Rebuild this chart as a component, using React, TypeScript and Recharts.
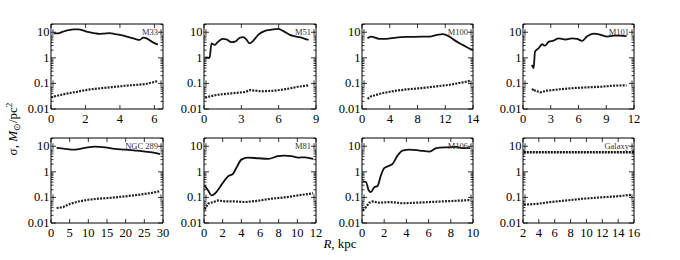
import { LineChart, Line, XAxis, YAxis, ReferenceArea } from 'recharts';

type Pt = { r: number; s: number };

// r in kpc, s in Msun/pc^2
const m33Upper: Pt[] = [
  { r: 0, s: 9.2 }, { r: 0.4, s: 9.0 }, { r: 0.7, s: 10.5 }, { r: 1.0, s: 12 }, { r: 1.3, s: 13 },
  { r: 1.6, s: 13 }, { r: 1.9, s: 11.5 }, { r: 2.2, s: 10 }, { r: 2.5, s: 9.3 }, { r: 2.8, s: 8.6 },
  { r: 3.1, s: 8.9 }, { r: 3.4, s: 9.2 }, { r: 3.7, s: 8.5 }, { r: 4.0, s: 7.9 }, { r: 4.3, s: 7.0 },
  { r: 4.6, s: 6.2 }, { r: 4.9, s: 5.4 }, { r: 5.15, s: 5.0 }, { r: 5.35, s: 6.2 }, { r: 5.55, s: 5.8 },
  { r: 5.85, s: 4.3 }, { r: 6.1, s: 3.5 }, { r: 6.2, s: 3.3 },
];
const m33Lower: Pt[] = [
  { r: 0, s: 0.028 }, { r: 0.2, s: 0.031 }, { r: 0.5, s: 0.035 }, { r: 1.0, s: 0.041 }, { r: 1.5, s: 0.047 },
  { r: 2.0, s: 0.055 }, { r: 2.5, s: 0.061 }, { r: 3.0, s: 0.066 }, { r: 3.5, s: 0.071 }, { r: 4.0, s: 0.077 },
  { r: 4.5, s: 0.083 }, { r: 5.0, s: 0.088 }, { r: 5.5, s: 0.095 }, { r: 5.9, s: 0.11 }, { r: 6.1, s: 0.12 },
  { r: 6.2, s: 0.11 },
];

const m51Upper: Pt[] = [
  { r: 0.1, s: 1.03 }, { r: 0.45, s: 1.0 }, { r: 0.6, s: 3.7 }, { r: 0.85, s: 3.2 }, { r: 1.1, s: 4.1 },
  { r: 1.5, s: 5.5 }, { r: 1.8, s: 5.3 }, { r: 2.2, s: 4.1 }, { r: 2.5, s: 4.3 }, { r: 2.9, s: 6.2 },
  { r: 3.15, s: 6.4 }, { r: 3.4, s: 5.3 }, { r: 3.65, s: 3.7 }, { r: 3.95, s: 4.6 }, { r: 4.35, s: 7.9 },
  { r: 4.9, s: 11.3 }, { r: 5.3, s: 12.3 }, { r: 5.95, s: 13.5 }, { r: 6.35, s: 11.3 }, { r: 6.9, s: 7.9 },
  { r: 7.4, s: 6.8 }, { r: 8.0, s: 5.8 }, { r: 8.4, s: 5.0 },
];
const m51Lower: Pt[] = [
  { r: 0.1, s: 0.027 }, { r: 0.3, s: 0.03 }, { r: 1.1, s: 0.036 }, { r: 2.2, s: 0.041 }, { r: 3.3, s: 0.046 },
  { r: 3.7, s: 0.055 }, { r: 4.6, s: 0.049 }, { r: 5.7, s: 0.052 }, { r: 6.75, s: 0.062 }, { r: 7.55, s: 0.074 },
  { r: 8.4, s: 0.084 },
];

const m100Upper: Pt[] = [
  { r: 0.7, s: 5.8 }, { r: 1.1, s: 6.8 }, { r: 2.2, s: 5.5 }, { r: 3.0, s: 5.5 }, { r: 4.3, s: 6.2 },
  { r: 6, s: 6.6 }, { r: 7.6, s: 6.8 }, { r: 8.5, s: 6.8 }, { r: 9.5, s: 7.9 }, { r: 10.2, s: 8.4 },
  { r: 11, s: 6.8 }, { r: 11.8, s: 4.6 }, { r: 12.7, s: 3.2 }, { r: 13.7, s: 2.2 }, { r: 14, s: 2.1 },
];
const m100Lower: Pt[] = [
  { r: 0.7, s: 0.025 }, { r: 1.1, s: 0.031 }, { r: 2.6, s: 0.042 }, { r: 4.3, s: 0.052 }, { r: 6, s: 0.06 },
  { r: 7.6, s: 0.066 }, { r: 9.3, s: 0.076 }, { r: 11, s: 0.088 }, { r: 12.7, s: 0.11 }, { r: 13.7, s: 0.127 },
];

const m101Upper: Pt[] = [
  { r: 0.97, s: 0.53 }, { r: 1.15, s: 0.4 }, { r: 1.3, s: 1.77 }, { r: 1.7, s: 2.4 }, { r: 2.05, s: 3.4 },
  { r: 2.4, s: 3.0 }, { r: 2.8, s: 4.3 }, { r: 3.3, s: 4.7 }, { r: 3.85, s: 5.8 }, { r: 4.6, s: 5.2 },
  { r: 5.3, s: 5.8 }, { r: 5.85, s: 5.5 }, { r: 6.4, s: 4.6 }, { r: 6.9, s: 6.8 }, { r: 7.65, s: 8.9 },
  { r: 8.4, s: 7.9 }, { r: 9.1, s: 6.8 }, { r: 9.8, s: 7.4 }, { r: 10.5, s: 7.4 }, { r: 11.2, s: 7.0 },
];
const m101Lower: Pt[] = [
  { r: 0.97, s: 0.055 }, { r: 1.15, s: 0.062 }, { r: 1.3, s: 0.052 }, { r: 1.9, s: 0.045 }, { r: 2.6, s: 0.052 },
  { r: 4, s: 0.059 }, { r: 5.5, s: 0.066 }, { r: 6.9, s: 0.07 }, { r: 8.4, s: 0.074 }, { r: 9.8, s: 0.082 },
  { r: 11.2, s: 0.084 },
];

const ngc289Upper: Pt[] = [
  { r: 1.5, s: 8.6 }, { r: 3.75, s: 7.9 }, { r: 6.4, s: 7.4 }, { r: 9.1, s: 8.6 }, { r: 11.8, s: 9.7 },
  { r: 14.5, s: 9.1 }, { r: 17.1, s: 7.9 }, { r: 19.8, s: 7.4 }, { r: 22.5, s: 6.8 }, { r: 25.2, s: 6.2 },
  { r: 27.9, s: 5.5 }, { r: 29.2, s: 4.9 },
];
const ngc289Lower: Pt[] = [
  { r: 1.5, s: 0.0385 }, { r: 3.3, s: 0.042 }, { r: 5.1, s: 0.056 }, { r: 7.3, s: 0.069 }, { r: 10, s: 0.081 },
  { r: 12.7, s: 0.089 }, { r: 16.3, s: 0.097 }, { r: 19.8, s: 0.11 }, { r: 23.4, s: 0.126 }, { r: 27, s: 0.15 },
  { r: 29.2, s: 0.176 },
];

const m81Upper: Pt[] = [
  { r: 0.07, s: 0.29 }, { r: 0.43, s: 0.19 }, { r: 0.8, s: 0.12 }, { r: 1.15, s: 0.14 }, { r: 1.7, s: 0.25 },
  { r: 2.2, s: 0.46 }, { r: 2.6, s: 0.68 }, { r: 3.1, s: 0.84 }, { r: 3.5, s: 1.5 }, { r: 4.0, s: 3.0 },
  { r: 4.7, s: 3.6 }, { r: 5.8, s: 3.4 }, { r: 6.9, s: 3.2 }, { r: 7.9, s: 4.1 }, { r: 8.6, s: 4.3 },
  { r: 9.4, s: 4.1 }, { r: 10.1, s: 3.6 }, { r: 10.8, s: 3.7 }, { r: 11.7, s: 3.2 },
];
const m81Lower: Pt[] = [
  { r: 0.07, s: 0.034 }, { r: 0.43, s: 0.057 }, { r: 1.0, s: 0.066 }, { r: 1.5, s: 0.076 }, { r: 2.2, s: 0.07 },
  { r: 3.2, s: 0.07 }, { r: 4.4, s: 0.066 }, { r: 5.8, s: 0.074 }, { r: 7.2, s: 0.089 }, { r: 8.6, s: 0.1 },
  { r: 10.1, s: 0.12 }, { r: 11.7, s: 0.145 },
];

const m106Upper: Pt[] = [
  { r: 0.06, s: 0.42 }, { r: 0.36, s: 0.4 }, { r: 0.6, s: 0.19 }, { r: 0.8, s: 0.16 }, { r: 1.1, s: 0.25 },
  { r: 1.4, s: 0.28 }, { r: 1.7, s: 0.72 }, { r: 2.0, s: 1.4 }, { r: 2.5, s: 1.77 }, { r: 2.75, s: 2.05 },
  { r: 3.2, s: 4.3 }, { r: 3.65, s: 6.8 }, { r: 4.3, s: 7.4 }, { r: 5.2, s: 6.8 }, { r: 6.1, s: 6.2 },
  { r: 6.7, s: 8.4 }, { r: 7.6, s: 9.1 }, { r: 8.5, s: 9.4 }, { r: 9.1, s: 8.4 }, { r: 9.8, s: 8.4 },
];
const m106Lower: Pt[] = [
  { r: 0.06, s: 0.031 }, { r: 0.36, s: 0.042 }, { r: 0.66, s: 0.062 }, { r: 0.95, s: 0.07 }, { r: 1.56, s: 0.062 },
  { r: 2.5, s: 0.066 }, { r: 3.65, s: 0.059 }, { r: 4.85, s: 0.062 }, { r: 6.1, s: 0.066 }, { r: 7.3, s: 0.07 },
  { r: 8.5, s: 0.074 }, { r: 9.8, s: 0.079 },
];

const galaxyUpper: Pt[] = [
  { r: 2.1, s: 5.8 }, { r: 4, s: 5.8 }, { r: 6, s: 5.8 }, { r: 8, s: 5.8 }, { r: 10, s: 5.8 },
  { r: 12, s: 5.8 }, { r: 14, s: 5.8 }, { r: 16, s: 5.8 },
];
const galaxyLower: Pt[] = [
  { r: 2.1, s: 0.052 }, { r: 3.8, s: 0.056 }, { r: 5.4, s: 0.066 }, { r: 7.5, s: 0.076 }, { r: 9.6, s: 0.089 },
  { r: 11.7, s: 0.1 }, { r: 13.8, s: 0.11 }, { r: 15.7, s: 0.127 },
];

const yMajor = [0.01, 0.1, 1, 10];
const yMajorLabels = ['0.01', '0.1', '1', '10'];
const yMinor = [
  0.02, 0.03, 0.04, 0.05, 0.06, 0.07, 0.08, 0.09,
  0.2, 0.3, 0.4, 0.5, 0.6, 0.7, 0.8, 0.9,
  2, 3, 4, 5, 6, 7, 8, 9, 20,
];
const yTicks = [...yMajor, ...yMinor].sort((a, b) => a - b);
const yMax = 21;

const panels = [
  { name: 'M33', upper: m33Upper, lower: m33Lower, dom: [0, 6.5], ticks: [0, 2, 4, 6], labels: ['0', '2', '4', '6'] },
  { name: 'M51', upper: m51Upper, lower: m51Lower, dom: [0, 9], ticks: [0, 3, 6, 9], labels: ['0', '3', '6', '9'] },
  { name: 'M100', upper: m100Upper, lower: m100Lower, dom: [0, 14], ticks: [0, 3.5, 7, 10.5, 14], labels: ['0', '4', '8', '12', '14'] },
  { name: 'M101', upper: m101Upper, lower: m101Lower, dom: [0, 12], ticks: [0, 3, 6, 9, 12], labels: ['0', '3', '6', '9', '12'] },
  { name: 'NGC 289', upper: ngc289Upper, lower: ngc289Lower, dom: [0, 30], ticks: [0, 5, 10, 15, 20, 25, 30], labels: ['0', '5', '10', '15', '20', '25', '30'] },
  { name: 'M81', upper: m81Upper, lower: m81Lower, dom: [0, 12], ticks: [0, 2, 4, 6, 8, 10, 12], labels: ['0', '2', '4', '6', '8', '10', '12'] },
  { name: 'M106', upper: m106Upper, lower: m106Lower, dom: [0, 10], ticks: [0, 2, 4, 6, 8, 10], labels: ['0', '2', '4', '6', '8', '10'] },
  { name: 'Galaxy', upper: galaxyUpper, lower: galaxyLower, dom: [2, 16], ticks: [2, 4, 6, 8, 10, 12, 14, 16], labels: ['2', '4', '6', '8', '10', '12', '14', '16'], dottedTop: true },
];

const FONT = 'Liberation Serif, Times New Roman, serif';
const lefts = [51, 204, 362, 523];
const widths = [112, 112, 111, 111];
const tops = [24, 138];
const PH = 85;
const ML = 40; // room for y labels
const MR = 10;
const MT = 5;
const XH = 20;

function YTick(props: any) {
  const { x, y, payload, plotW } = props;
  const v = payload.value;
  const mi = yMajor.indexOf(v);
  const major = mi >= 0;
  const len = major ? 5 : 2.5;
  const block = v === 10 || v === 0.1;
  return (
    <g>
      {block && <rect x={x} y={y - 3} width={3} height={6} fill="#9a9a9a" />}
      {block && <rect x={x + plotW - 3} y={y - 3} width={3} height={6} fill="#9a9a9a" />}
      <line x1={x} x2={x + len} y1={y} y2={y} stroke="#000" strokeWidth={0.8} />
      <line x1={x + plotW} x2={x + plotW - len} y1={y} y2={y} stroke="#000" strokeWidth={0.8} />
      {major && (
        <text x={x - 1.5} y={y + 4} textAnchor="end" fontFamily={FONT} fontSize={12.5} fill="#000">
          {yMajorLabels[mi]}
        </text>
      )}
    </g>
  );
}

function XTick(props: any) {
  const { x, y, payload, ticks, labels } = props;
  const i = ticks.indexOf(payload.value);
  return (
    <g>
      <line x1={x} x2={x} y1={y} y2={y - 4} stroke="#000" strokeWidth={0.8} />
      <line x1={x} x2={x} y1={y - PH} y2={y - PH + 4} stroke="#000" strokeWidth={0.8} />
      <text x={x} y={y + 14} textAnchor="middle" fontFamily={FONT} fontSize={12.5} fill="#000">
        {labels[i]}
      </text>
    </g>
  );
}

function Panel({ p, idx }: { p: any; idx: number }) {
  const col = idx % 4;
  const row = Math.floor(idx / 4);
  const pw = widths[col];
  const w = ML + pw + MR;
  const h = MT + PH + XH;
  return (
    <div style={{ position: 'absolute', left: lefts[col] - ML, top: tops[row] - MT }}>
      <LineChart width={w} height={h} margin={{ top: MT, right: MR, bottom: 0, left: 0 }}>
        <XAxis
          dataKey="r"
          type="number"
          domain={p.dom}
          ticks={p.ticks}
          interval={0}
          height={XH}
          tickSize={0}
          tickMargin={0}
          axisLine={false}
          tickLine={false}
          allowDataOverflow
          tick={(tp: any) => <XTick {...tp} ticks={p.ticks} labels={p.labels} />}
        />
        <YAxis
          dataKey="s"
          type="number"
          scale="log"
          domain={[0.01, yMax]}
          ticks={yTicks}
          interval={0}
          width={ML}
          tickSize={0}
          tickMargin={0}
          axisLine={false}
          tickLine={false}
          allowDataOverflow
          tick={(tp: any) => <YTick {...tp} plotW={pw} />}
        />
        <ReferenceArea
          x1={p.dom[0]}
          x2={p.dom[1]}
          y1={0.01}
          y2={yMax}
          fill="none"
          fillOpacity={0}
          stroke="#000"
          strokeWidth={1}
          label={{ value: p.name, position: 'insideTopRight', offset: 5, fontSize: 8.5, fontFamily: FONT, fill: '#333' }}
        />
        <Line
          data={p.upper}
          dataKey="s"
          type={p.dottedTop ? 'linear' : 'monotone'}
          stroke="#111"
          strokeWidth={p.dottedTop ? 2.4 : 1.8}
          strokeDasharray={p.dottedTop ? '2 1' : undefined}
          dot={false}
          isAnimationActive={false}
        />
        <Line
          data={p.lower}
          dataKey="s"
          type="linear"
          stroke="#222"
          strokeWidth={2.2}
          strokeDasharray="2 1.2"
          dot={false}
          isAnimationActive={false}
        />
      </LineChart>
    </div>
  );
}

export default function App() {
  return (
    <div style={{ position: 'absolute', left: 0, top: 0, width: 680, height: 260, background: '#fff' }}>
      <svg width={680} height={260} style={{ position: 'absolute', left: 0, top: 0 }}>
        <text transform="translate(17,129) rotate(-90)" textAnchor="middle" fontFamily={FONT} fontSize={13} fill="#000">
          σ, <tspan fontStyle="italic">M</tspan>
          <tspan fontSize={9} dy={3}>⊙</tspan>
          <tspan dy={-3}>/pc</tspan>
          <tspan fontSize={9} dy={-5}>2</tspan>
        </text>
        <text x={340} y={248} textAnchor="middle" fontFamily={FONT} fontSize={13} fill="#000">
          <tspan fontStyle="italic">R</tspan>, kpc
        </text>
      </svg>
      {panels.map((p, i) => (
        <Panel key={p.name} p={p} idx={i} />
      ))}
    </div>
  );
}
